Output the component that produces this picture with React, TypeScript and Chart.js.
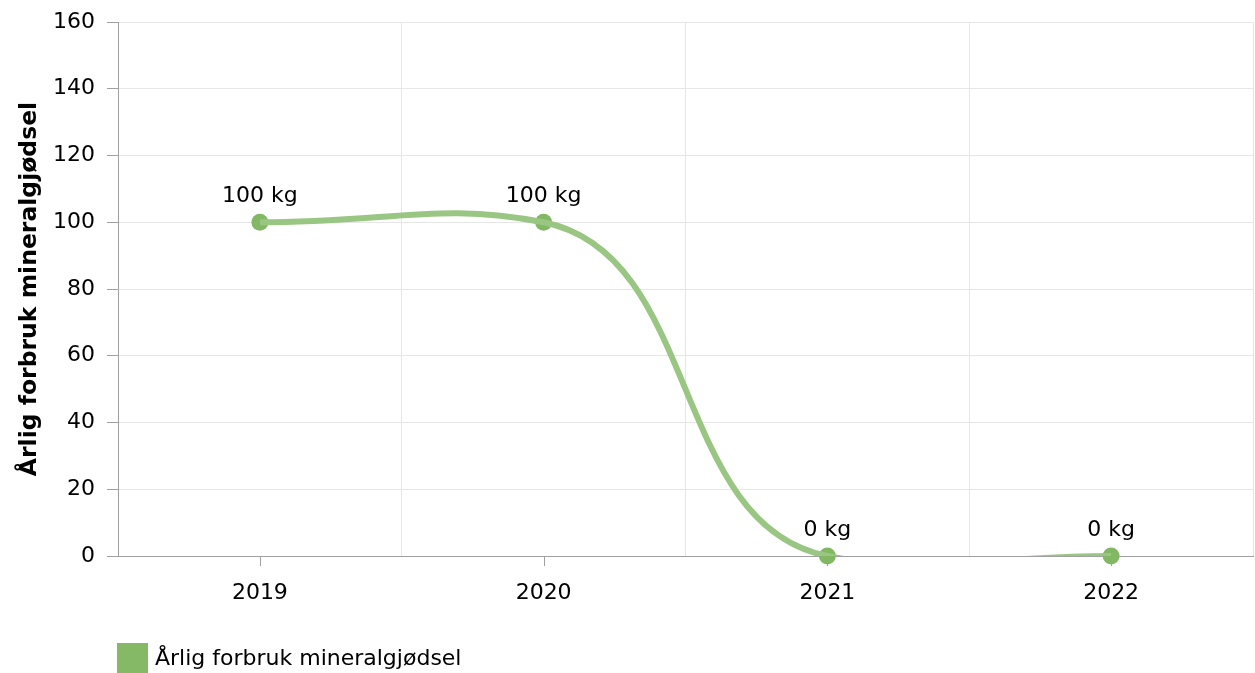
import { useEffect, useRef } from 'react';
import { Chart, registerables } from 'chart.js';

Chart.register(...registerables);

const categories: string[] = ['2019', '2020', '2021', '2022'];
const values: number[] = [100, 100, 0, 0];
const seriesName = 'Årlig forbruk mineralgjødsel';
const unit = 'kg';
const yMin = 0;
const yMax = 160;
const yStep = 20;

const FONT = '"DejaVu Sans", Verdana, sans-serif';
const LINE_COLOR = '#99c682';
const POINT_COLOR = '#82b864';
const LEGEND_COLOR = '#85b966';
const TEXT_COLOR = '#000000';
const GRID_COLOR = '#e6e6e6';
const AXIS_COLOR = '#a0a0a0';

// Smooth spline control points (tangent flattened, lengths weighted by segment length)
const splinePlugin = {
  id: 'splineCp',
  beforeDatasetDraw(chart: any, args: any) {
    if (args.index !== 0) return;
    const meta = chart.getDatasetMeta(0);
    const line = meta.dataset;
    if (line && line.updateControlPoints) line.updateControlPoints(chart.chartArea, 'x');
    const pts = meta.data;
    const T = 0.46;
    const K = 0.34;
    const n = pts.length;
    for (let i = 0; i < n; i++) {
      const p = pts[i];
      const prev = pts[i - 1];
      const next = pts[i + 1];
      if (prev && next) {
        const dP = Math.hypot(p.x - prev.x, p.y - prev.y);
        const dN = Math.hypot(next.x - p.x, next.y - p.y);
        const avg = (dP + dN) / 2 || 1;
        const m = (K * (next.y - prev.y)) / (next.x - prev.x);
        const lenL = T * (p.x - prev.x) * (dP / avg);
        const lenR = T * (next.x - p.x) * (dN / avg);
        p.cp1x = p.x - lenL;
        p.cp1y = p.y - m * lenL;
        p.cp2x = p.x + lenR;
        p.cp2y = p.y + m * lenR;
      } else if (next) {
        const len = T * (next.x - p.x);
        p.cp1x = p.x;
        p.cp1y = p.y;
        p.cp2x = p.x + len;
        p.cp2y = p.y;
      } else if (prev) {
        const len = T * (p.x - prev.x);
        p.cp1x = p.x - len;
        p.cp1y = p.y;
        p.cp2x = p.x;
        p.cp2y = p.y;
      }
    }
  },
};

const tickMarkPlugin = {
  id: 'xCenterTicks',
  beforeDatasetsDraw(chart: any) {
    const x = chart.scales.x;
    const ctx = chart.ctx;
    ctx.save();
    ctx.strokeStyle = AXIS_COLOR;
    ctx.lineWidth = 1;
    categories.forEach((_, i) => {
      const px = Math.round(x.getPixelForValue(i)) + 0.5;
      ctx.beginPath();
      ctx.moveTo(px, x.top);
      ctx.lineTo(px, x.top + 10);
      ctx.stroke();
    });
    ctx.restore();
  },
};

const labelPlugin = {
  id: 'pointLabels',
  afterDatasetsDraw(chart: any) {
    const meta = chart.getDatasetMeta(1);
    const ctx = chart.ctx;
    ctx.save();
    ctx.font = `22px ${FONT}`;
    ctx.fillStyle = TEXT_COLOR;
    ctx.textAlign = 'center';
    ctx.textBaseline = 'middle';
    meta.data.forEach((pt: any, i: number) => {
      ctx.fillText(`${values[i]} ${unit}`, pt.x, pt.y - 26);
    });
    ctx.restore();
  },
};

const legendPlugin = {
  id: 'bottomLegend',
  afterDraw(chart: any) {
    const ctx = chart.ctx;
    const left = chart.chartArea.left;
    const top = chart.height - 30;
    ctx.save();
    ctx.fillStyle = LEGEND_COLOR;
    ctx.fillRect(left - 1, top, 31, 32);
    ctx.font = `22px ${FONT}`;
    ctx.fillStyle = TEXT_COLOR;
    ctx.textAlign = 'left';
    ctx.textBaseline = 'middle';
    ctx.fillText(seriesName, left + 37, top + 16);
    ctx.restore();
  },
};

export default function App() {
  const canvasRef = useRef<HTMLCanvasElement | null>(null);

  useEffect(() => {
    if (!canvasRef.current) return;
    const chart = new Chart(canvasRef.current, {
      type: 'line',
      data: {
        labels: categories,
        datasets: [
          {
            label: seriesName,
            data: values,
            borderColor: LINE_COLOR,
            borderWidth: 6,
            tension: 0.4,
            pointRadius: 0,
            pointHoverRadius: 0,
            fill: false,
            clip: { left: false, right: false, top: false, bottom: 0 } as any,
          },
          {
            label: seriesName + ' ',
            data: values,
            showLine: false,
            pointRadius: 8.5,
            pointBackgroundColor: POINT_COLOR,
            pointBorderWidth: 0,
            pointBorderColor: POINT_COLOR,
            clip: false as any,
          },
        ],
      },
      options: {
        animation: false,
        responsive: true,
        maintainAspectRatio: false,
        devicePixelRatio: 1,
        layout: { autoPadding: false, padding: { top: 22, right: 2, bottom: 0, left: 0 } },
        plugins: {
          legend: { display: false },
          tooltip: { enabled: false },
        },
        scales: {
          x: {
            type: 'category',
            offset: true,
            grid: { offset: true, color: GRID_COLOR, drawTicks: false, lineWidth: 1 },
            border: { color: AXIS_COLOR, width: 1 },
            ticks: { font: { family: FONT, size: 22 }, color: TEXT_COLOR, padding: 24, maxRotation: 0 },
            afterFit: (s: any) => {
              s.height = 117;
            },
          },
          y: {
            min: yMin,
            max: yMax,
            ticks: { stepSize: yStep, font: { family: FONT, size: 22 }, color: TEXT_COLOR, padding: 12 },
            grid: { color: GRID_COLOR, tickColor: AXIS_COLOR, tickLength: 11, lineWidth: 1 },
            border: { color: AXIS_COLOR, width: 1 },
            title: {
              display: true,
              text: seriesName,
              font: { family: FONT, size: 23.5, weight: 'bold' },
              color: TEXT_COLOR,
              padding: { top: 16, bottom: 0 },
            },
            afterFit: (s: any) => {
              s.width = 118;
              s.paddingTop = 14;
              s.paddingBottom = 14;
            },
          },
        },
      },
      plugins: [splinePlugin, tickMarkPlugin, labelPlugin, legendPlugin],
    });
    return () => chart.destroy();
  }, []);

  return (
    <div style={{ position: 'fixed', left: 0, top: 0, width: 1255, height: 673 }}>
      <canvas ref={canvasRef} />
    </div>
  );
}
